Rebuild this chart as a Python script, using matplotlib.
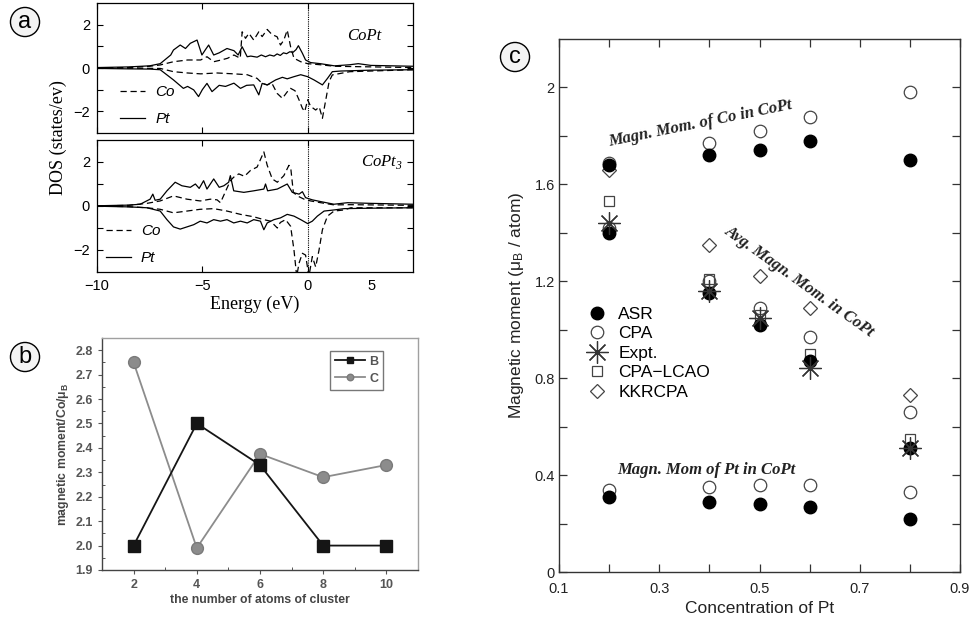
import numpy as np
import matplotlib
matplotlib.use("Agg")
import matplotlib.pyplot as plt
from matplotlib.lines import Line2D

plt.rcParams['font.family'] = ['Liberation Sans', 'DejaVu Sans']
plt.rcParams['axes.unicode_minus'] = True

# ---------------- (a) DOS of CoPt and CoPt3 ----------------
# CoPt, Pt spin-up / spin-down (solid)
copt_pt_up_e = [-10, -8.5, -7.5, -7.0, -6.5, -6.37, -6.05, -5.8, -5.57, -5.25, -5.02, -4.85, -4.7,
                -4.46, -4.2, -3.83, -3.5, -3.3, -3.11, -2.87, -2.7, -2.4, -2.2, -2.0, -1.8, -1.6,
                -1.45, -1.3, -1.15, -1.0, -0.85, -0.7, -0.55, -0.44, -0.25, -0.1, 0.14, 0.6, 1.27,
                2.0, 2.4, 3.0, 5.0]
copt_pt_up = [0.02, 0.05, 0.1, 0.2, 0.6, 0.83, 1.06, 0.9, 1.14, 1.29, 0.6, 0.85, 1.06,
              0.6, 0.7, 0.9, 0.8, 0.6, 0.98, 0.52, 0.55, 0.5, 0.6, 0.52, 0.6, 0.55,
              0.65, 0.58, 0.7, 0.66, 0.75, 0.72, 0.85, 1.03, 0.68, 0.37, 0.25, 0.2, 0.1,
              0.15, 0.2, 0.12, 0.08]
copt_pt_dn_e = [-10, -8.5, -7.5, -7.0, -6.37, -5.9, -5.7, -5.41, -5.18, -5.0, -4.78, -4.54, -4.2,
                -3.9, -3.5, -3.19, -2.9, -2.56, -2.32, -2.16, -1.92, -1.52, -1.2, -0.97, -0.65,
                -0.33, 0.0, 0.3, 0.7, 0.94, 1.17, 1.57, 3.0, 5.0]
copt_pt_dn = [-0.02, -0.04, -0.05, -0.08, -0.55, -0.94, -0.85, -1.01, -1.32, -1.0, -0.71, -1.09, -0.8,
              -0.85, -0.7, -0.94, -0.8, -0.78, -1.24, -0.71, -0.78, -0.55, -0.43, -0.5, -0.4,
              -0.31, -0.4, -0.55, -0.78, -0.48, -0.17, -0.14, -0.1, -0.08]
# CoPt, Co spin-up / spin-down (dashed)
copt_co_up_e = [-10, -8.5, -7.5, -7.0, -6.37, -5.7, -5.08, -4.78, -4.46, -4.1, -3.8, -3.5, -3.2,
                -3.11, -2.95, -2.79, -2.56, -2.32, -2.16, -1.92, -1.7, -1.45, -1.29, -1.13, -0.97,
                -0.81, -0.65, -0.33, 0.0, 0.6, 1.27, 2.5, 5.0]
copt_co_up = [0.0, 0.02, 0.08, 0.14, 0.29, 0.37, 0.37, 0.52, 0.29, 0.37, 0.45, 0.6, 0.45,
              1.67, 1.37, 1.6, 1.29, 1.67, 1.45, 1.78, 1.55, 1.44, 1.06, 1.29, 1.75,
              0.98, 0.45, 0.29, 0.2, 0.15, 0.08, 0.06, 0.02]
copt_co_dn_e = [-10, -8.5, -7.0, -6.37, -5.7, -5.08, -4.3, -3.5, -2.87, -2.4, -2.16, -1.92, -1.7,
                -1.45, -1.2, -0.97, -0.81, -0.6, -0.41, -0.25, -0.14, 0.0, 0.14, 0.38, 0.55, 0.7,
                0.86, 1.02, 1.17, 2.0, 5.0]
copt_co_dn = [0.0, -0.01, -0.02, -0.17, -0.23, -0.27, -0.23, -0.27, -0.31, -0.48, -0.71, -0.78, -0.7,
              -1.17, -1.4, -1.1, -0.94, -1.05, -1.47, -1.86, -2.01, -1.47, -1.77, -1.94, -1.8, -2.32,
              -1.47, -0.62, -0.32, -0.17, -0.08]

# CoPt3
copt3_pt_up_e = [-10, -8.5, -7.95, -7.48, -7.35, -7.24, -7.0, -6.68, -6.29, -5.97, -5.57, -5.33, -5.15,
                 -4.94, -4.78, -4.46, -4.2, -3.98, -3.75, -3.67, -3.51, -3.03, -2.56, -2.08, -2.0,
                 -1.9, -1.44, -0.97, -0.73, -0.41, -0.25, -0.1, 0.22, 0.62, 1.25, 1.89, 3.0, 5.0]
copt3_pt_up = [0.01, 0.04, 0.08, 0.31, 0.54, 0.26, 0.31, 0.69, 1.08, 0.92, 0.85, 1.0, 0.8,
               1.15, 0.77, 1.23, 0.85, 0.92, 1.08, 1.38, 0.69, 0.62, 0.69, 0.77, 1.0,
               0.69, 0.77, 1.0, 0.62, 0.54, 0.65, 0.38, 0.28, 0.2, 0.08, 0.15, 0.12, 0.08]
copt3_pt_dn_e = [-10, -8.5, -7.63, -7.0, -6.68, -6.37, -6.05, -5.73, -5.41, -5.1, -4.78, -4.46, -4.14,
                 -3.83, -3.51, -3.19, -2.87, -2.56, -2.24, -2.08, -1.92, -1.6, -1.29, -0.97, -0.65,
                 -0.33, 0.0, 0.22, 0.46, 0.78, 1.25, 1.73, 3.0, 5.0]
copt3_pt_dn = [-0.01, -0.04, -0.08, -0.23, -0.62, -0.95, -1.05, -0.95, -0.85, -0.69, -0.77, -0.62, -0.69,
               -0.62, -0.77, -0.69, -0.77, -0.62, -0.69, -1.08, -0.77, -0.62, -0.54, -0.38, -0.46,
               -0.62, -0.8, -0.69, -0.46, -0.23, -0.18, -0.12, -0.1, -0.08]
copt3_co_up_e = [-10, -8.5, -7.63, -7.0, -6.37, -5.73, -5.1, -4.62, -4.3, -4.14, -3.67, -3.51, -3.27,
                 -3.0, -2.71, -2.4, -2.08, -1.92, -1.68, -1.44, -1.13, -0.89, -0.8, -0.68, -0.49,
                 -0.17, 0.14, 0.62, 1.25, 2.0, 5.0]
copt3_co_up = [0.0, 0.03, 0.12, 0.23, 0.46, 0.31, 0.23, 0.31, 0.28, 0.15, 1.15, 1.31, 1.46,
               1.35, 1.62, 1.77, 2.46, 1.85, 1.23, 1.08, 1.38, 1.85, 1.7, 0.62, 0.46,
               0.31, 0.23, 0.15, 0.05, 0.06, 0.03]
copt3_co_dn_e = [-10, -8.5, -7.63, -7.0, -6.37, -5.73, -5.1, -4.46, -3.83, -3.19, -2.56, -2.08, -1.76,
                 -1.44, -1.3, -1.05, -0.81, -0.65, -0.52, -0.41, -0.25, -0.1, 0.06, 0.22, 0.38,
                 0.54, 0.7, 0.94, 1.25, 1.73, 2.05, 5.0]
copt3_co_dn = [0.0, -0.03, -0.08, -0.15, -0.31, -0.23, -0.15, -0.12, -0.23, -0.38, -0.49, -0.62, -0.69,
               -1.0, -0.75, -0.62, -0.92, -2.0, -3.2, -2.6, -2.15, -2.23, -3.2, -2.3, -2.77,
               -2.0, -1.08, -0.46, -0.23, -0.18, -0.08, -0.08]

# ---------------- (b) cluster moments ----------------
n_atoms = [2, 4, 6, 8, 10]
mom_B = [2.0, 2.5, 2.33, 2.0, 2.0]
mom_C = [2.75, 1.99, 2.375, 2.28, 2.33]

# ---------------- (c) moments vs Pt concentration ----------------
conc = [0.2, 0.4, 0.5, 0.6, 0.8]
asr_co = [1.68, 1.72, 1.74, 1.78, 1.70]
asr_avg = [1.40, 1.15, 1.02, 0.87, 0.51]
asr_pt = [0.31, 0.29, 0.28, 0.27, 0.22]
cpa_co = [1.69, 1.77, 1.82, 1.88, 1.98]
cpa_avg = [1.42, 1.20, 1.09, 0.97, 0.66]
cpa_pt = [0.34, 0.35, 0.36, 0.36, 0.33]
expt_avg = [1.44, 1.16, 1.05, 0.84, 0.51]
lcao_avg = [1.53, 1.21, 1.06, 0.90, 0.55]
kkr_avg = [1.66, 1.35, 1.22, 1.09, 0.73]

W, H = 973, 621
fig = plt.figure(figsize=(W / 100, H / 100), dpi=100)


def px_axes(left, top, right, bottom):
    return fig.add_axes([left / W, 1 - bottom / H, (right - left) / W, (bottom - top) / H])


serif = ['Liberation Serif', 'DejaVu Serif']
dash = (0, (5, 3))

# ---- panel a ----
ax_a1 = px_axes(97, 3, 413, 133)
ax_a2 = px_axes(97, 140, 413, 272)
dos = [
    (ax_a1, (copt_pt_up_e, copt_pt_up), (copt_pt_dn_e, copt_pt_dn),
     (copt_co_up_e, copt_co_up), (copt_co_dn_e, copt_co_dn)),
    (ax_a2, (copt3_pt_up_e, copt3_pt_up), (copt3_pt_dn_e, copt3_pt_dn),
     (copt3_co_up_e, copt3_co_up), (copt3_co_dn_e, copt3_co_dn)),
]
for ax, pu, pd, cu, cd in dos:
    ax.plot(*pu, color='black', lw=0.9)
    ax.plot(*pd, color='black', lw=0.9)
    ax.plot(*cu, color='black', lw=0.9, ls=dash)
    ax.plot(*cd, color='black', lw=0.9, ls=dash)
    ax.axvline(0, color='black', lw=0.8, ls=(0, (1, 1)))
    ax.set_xlim(-10, 5)
    ax.set_ylim(-3, 3)
    ax.set_xticks([-10, -5, 0])
    ax.set_yticks([-2, 0, 2])
    ax.set_yticks([-1, 1], minor=True)
    ax.tick_params(which='both', direction='in', top=True, right=True, length=4, width=0.8,
                   labelsize=10.5, pad=5)
    for s in ax.spines.values():
        s.set_linewidth(0.9)

ax_a1.tick_params(axis='x', labelbottom=False)
# the "5" label sits left of the frame edge, without a tick mark
ax_a2.set_xticks([3.03], ['5'], minor=True)
ax_a2.tick_params(axis='x', which='minor', length=0, labelsize=10.5, pad=5)

leg_handles = [Line2D([], [], color='black', lw=0.9, ls=dash),
               Line2D([], [], color='black', lw=0.9)]
for ax, anchor in [(ax_a1, (0.073, 0.37)), (ax_a2, (0.028, 0.36))]:
    ax.legend(leg_handles, ['Co', 'Pt'], loc='upper left', bbox_to_anchor=anchor, frameon=False,
              prop={'style': 'italic', 'size': 11}, handlelength=1.65, handletextpad=0.65,
              labelspacing=0.85, borderpad=0, borderaxespad=0)

ax_a1.text(2.67, 1.5, 'CoPt', fontsize=12, family=serif, style='italic',
           ha='center', va='center')
ax_a2.text(3.5, 2.0, r'CoPt$_\mathregular{3}$', fontsize=12, family=serif, style='italic',
           ha='center', va='center')
ax_a2.set_xlabel('Energy (eV)', family=serif, fontsize=13, labelpad=2)
fig.text(58 / W, 1 - 138 / H, 'DOS (states/ev)', family=serif, fontsize=13, rotation=90,
         ha='center', va='center')

# ---- panel b ----
ax_b = px_axes(102, 338, 418, 570)
ax_b.plot(n_atoms, mom_B, color='#151515', lw=1.3, marker='s', ms=8, mfc='#151515', mec='#151515',
          label='B', zorder=3)
ax_b.plot(n_atoms, mom_C, color='#8c8c8c', lw=1.3, marker='o', ms=8.5, mfc='#8c8c8c', mec='#7a7a7a',
          label='C', zorder=2)
ax_b.set_xlim(1, 11)
ax_b.set_ylim(1.9, 2.85)
ax_b.set_xticks([2, 4, 6, 8, 10])
ax_b.set_xticks([3, 5, 7, 9], minor=True)
ax_b.set_yticks(np.round(np.arange(1.9, 2.81, 0.1), 1))
ax_b.set_yticks(np.round(np.arange(1.95, 2.8, 0.1), 2), minor=True)
ax_b.tick_params(which='major', direction='out', length=3, width=0.8, colors='#555555',
                 labelsize=9, labelcolor='#555555')
ax_b.tick_params(which='minor', direction='in', length=2, width=0.7, colors='#555555')
for lab in ax_b.get_xticklabels() + ax_b.get_yticklabels():
    lab.set_fontweight('bold')
for side in ['left', 'bottom']:
    ax_b.spines[side].set_color('#444444')
    ax_b.spines[side].set_linewidth(1.0)
for side in ['top', 'right']:
    ax_b.spines[side].set_color('#a0a0a0')
    ax_b.spines[side].set_linewidth(1.0)
ax_b.set_xlabel('the number of atoms of cluster', fontsize=8.8, fontweight='bold', color='#444444',
                labelpad=2)
ax_b.set_ylabel(r'magnetic moment/Co/$\mathregular{\mu_B}$', fontsize=8.8, fontweight='bold',
                color='#444444', labelpad=3)
leg_b = ax_b.legend(loc='upper right', bbox_to_anchor=(0.89, 0.945), fancybox=False,
                    edgecolor='#555555', markerscale=0.55, handlelength=2.4, handletextpad=0.3,
                    borderpad=0.4, labelspacing=0.4, prop={'size': 9, 'weight': 'bold'},
                    borderaxespad=0)
leg_b.get_frame().set_linewidth(1.0)
for t in leg_b.get_texts():
    t.set_color('#555555')

# ---- panel c ----
ax_c = px_axes(559, 39, 960, 572)
star = (8, 2, 0)
open_kw = dict(ls='none', mfc='none', mec='#444444', mew=0.9)
ax_c.plot(conc, kkr_avg, marker='D', ms=7, **open_kw)
ax_c.plot(conc, lcao_avg, marker='s', ms=7.5, **open_kw)
for ys in (cpa_co, cpa_avg, cpa_pt):
    ax_c.plot(conc, ys, marker='o', ms=9, **open_kw)
for ys in (asr_co, asr_avg, asr_pt):
    ax_c.plot(conc, ys, ls='none', marker='o', ms=9, mfc='black', mec='black')
ax_c.plot(conc, expt_avg, ls='none', marker=star, ms=16, mec='#333333', mew=0.9)

legend_c = [
    Line2D([], [], ls='none', marker='o', ms=9, mfc='black', mec='black'),
    Line2D([], [], marker='o', ms=9, **open_kw),
    Line2D([], [], ls='none', marker=star, ms=16, mec='#333333', mew=0.9),
    Line2D([], [], marker='s', ms=7.5, **open_kw),
    Line2D([], [], marker='D', ms=7, **open_kw),
]
ax_c.legend(legend_c, ['ASR', 'CPA', 'Expt.', 'CPA\u2212LCAO', 'KKRCPA'], loc='upper left',
            bbox_to_anchor=(0.055, 0.511), frameon=False, fontsize=12.5, handlelength=1.0,
            handletextpad=0.75, labelspacing=0.25, borderaxespad=0)

ax_c.set_xlim(0.1, 0.9)
ax_c.set_ylim(0, 2.2)
ax_c.set_xticks([0.1, 0.3, 0.5, 0.7, 0.9])
ax_c.set_xticks([0.2, 0.4, 0.6, 0.8], minor=True)
ax_c.set_yticks([0, 0.4, 0.8, 1.2, 1.6, 2.0], ['0', '0.4', '0.8', '1.2', '1.6', '2'])
ax_c.set_yticks([0.2, 0.6, 1.0, 1.4, 1.8], minor=True)
ax_c.tick_params(which='both', direction='in', top=True, right=True, length=6, width=0.9,
                 labelsize=10.5, colors='#333333', labelcolor='#222222')
ax_c.tick_params(axis='x', pad=7)
ax_c.tick_params(axis='y', pad=3)
for s in ax_c.spines.values():
    s.set_linewidth(1.0)
    s.set_color('#333333')
ax_c.set_xlabel('Concentration of Pt', fontsize=12.5, color='#222222', labelpad=4)
ax_c.set_ylabel(r'Magnetic moment ($\mathregular{\mu_B}$ / atom)', fontsize=12.5, color='#222222',
                labelpad=6)

note = dict(family=serif, style='italic', weight='bold', fontsize=12, color='#222222',
            ha='center', va='center')
ax_c.text(0.381, 1.85, 'Magn. Mom. of Co in CoPt', rotation=11.5, **note)
ax_c.text(0.579, 1.2, 'Avg. Magn. Mom. in CoPt', rotation=-35.5, **note)
ax_c.text(0.393, 0.42, 'Magn. Mom of Pt in CoPt', **note)

# ---- circled panel letters ----
for (cx, cy), letter in [((25, 22), 'a'), ((25, 357), 'b'), ((515, 57), 'c')]:
    fig.text(cx / W, 1 - cy / H, letter, fontsize=17, ha='center', va='center',
             bbox=dict(boxstyle='circle,pad=0.15', fc='#f4f4f4', ec='black', lw=1.0))

fig.savefig('out.png', dpi=100)
